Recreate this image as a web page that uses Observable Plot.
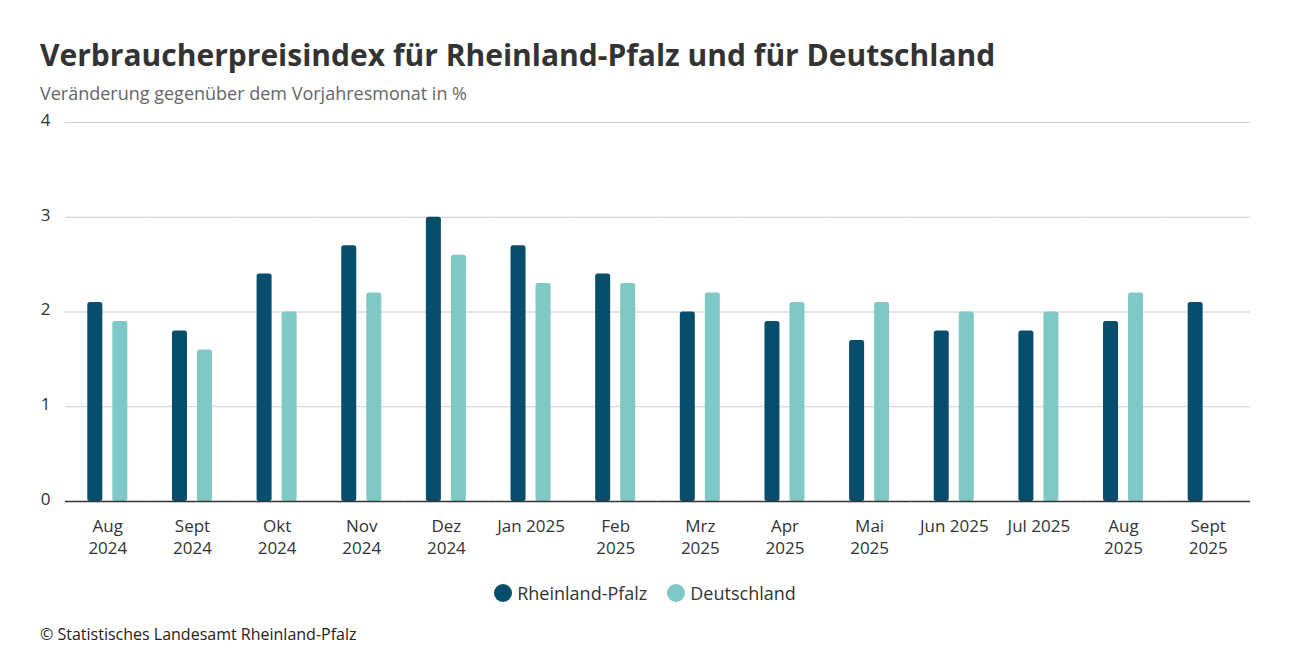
<!DOCTYPE html>
<html>
<head>
<meta charset="utf-8">
<script src="https://cdn.jsdelivr.net/npm/d3@7"></script>
<script src="https://cdn.jsdelivr.net/npm/@observablehq/plot@0.6"></script>
<style>
  html, body { margin: 0; padding: 0; background: #fff; }
  body { width: 1290px; height: 650px; position: relative; font-family: "Open Sans", sans-serif; overflow: hidden; }
  #title { position: absolute; left: 40px; top: 35px; margin: 0; font-size: 30px; font-weight: 700; color: #333; line-height: 40px; white-space: nowrap; }
  #subtitle { position: absolute; left: 40px; top: 81px; margin: 0; font-size: 18px; color: #666; line-height: 24px; white-space: nowrap; }
  #chart { position: absolute; left: 0; top: 100px; }
  #legend { position: absolute; left: 0; width: 1290px; top: 580px; display: flex; justify-content: center; gap: 20px; font-size: 18px; color: #333; line-height: 26px; }
  .item { display: flex; align-items: center; gap: 5px; }
  .dot { width: 18px; height: 18px; border-radius: 50%; display: inline-block; }
  #caption { position: absolute; left: 40px; top: 622px; font-size: 16px; color: #222; line-height: 24px; }
</style>
</head>
<body>
<div id="title">Verbraucherpreisindex für Rheinland-Pfalz und für Deutschland</div>
<div id="subtitle">Veränderung gegenüber dem Vorjahresmonat in %</div>
<div id="chart"></div>
<div id="legend"></div>
<div id="caption">© Statistisches Landesamt Rheinland-Pfalz</div>
<script>
const months = ["Aug 2024","Sept 2024","Okt 2024","Nov 2024","Dez 2024","Jan 2025","Feb 2025","Mrz 2025","Apr 2025","Mai 2025","Jun 2025","Jul 2025","Aug 2025","Sept 2025"];
const monthLabels = ["Aug\n2024","Sept\n2024","Okt\n2024","Nov\n2024","Dez\n2024","Jan 2025","Feb\n2025","Mrz\n2025","Apr\n2025","Mai\n2025","Jun 2025","Jul 2025","Aug\n2025","Sept\n2025"];
const series = ["Rheinland-Pfalz", "Deutschland"];
const rheinlandPfalz = [2.1, 1.8, 2.4, 2.7, 3.0, 2.7, 2.4, 2.0, 1.9, 1.7, 1.8, 1.8, 1.9, 2.1];
const deutschland = [1.9, 1.6, 2.0, 2.2, 2.6, 2.3, 2.3, 2.2, 2.1, 2.1, 2.0, 2.0, 2.2, null];
const colors = ["#074d6c", "#7ec8c5"];
const yTicks = [0, 1, 2, 3, 4];

const data = [];
months.forEach((m, i) => {
  if (rheinlandPfalz[i] != null) data.push({month: m, series: series[0], value: rheinlandPfalz[i]});
  if (deutschland[i] != null) data.push({month: m, series: series[1], value: deutschland[i]});
});
const labelOf = new Map(months.map((m, i) => [m, monthLabels[i]]));

const chart = Plot.plot({
  width: 1290,
  height: 461,
  marginLeft: 65,
  marginRight: 40,
  marginTop: 22,
  marginBottom: 60,
  style: {fontFamily: "Open Sans, sans-serif", fontSize: "17px", color: "#333", background: "transparent"},
  fx: {domain: months, paddingInner: 0, paddingOuter: 0, round: false, label: null, axis: null},
  x: {domain: series, paddingInner: 0.4, paddingOuter: 0.892, round: false, axis: null},
  y: {domain: [0, 4], ticks: yTicks, label: null, axis: null},
  color: {domain: series, range: colors},
  marks: [
    Plot.gridY(yTicks, {stroke: "#cccccc", strokeOpacity: 1, strokeWidth: 1}),
    Plot.axisY(yTicks, {anchor: "left", tickSize: 0, tickPadding: 15, fontSize: 17, fill: "#333", label: null, dy: -2, tickFormat: (d) => String(d)}),
    Plot.axisFx({anchor: "bottom", tickSize: 0, tickPadding: 15, fontSize: 17, fill: "#333", lineHeight: 1.3, tickFormat: (d) => labelOf.get(d), label: null}),
    Plot.barY(data, {fx: "month", x: "series", y: "value", fill: "series", rx: 2.5}),
    Plot.ruleY([0], {stroke: "#333", strokeWidth: 1.5})
  ]
});
document.getElementById("chart").appendChild(chart);

const legend = document.getElementById("legend");
series.forEach((s, i) => {
  const item = document.createElement("div");
  item.className = "item";
  const dot = document.createElement("span");
  dot.className = "dot";
  dot.style.background = colors[i];
  const label = document.createElement("span");
  label.textContent = s;
  item.appendChild(dot);
  item.appendChild(label);
  legend.appendChild(item);
});
</script>
</body>
</html>
